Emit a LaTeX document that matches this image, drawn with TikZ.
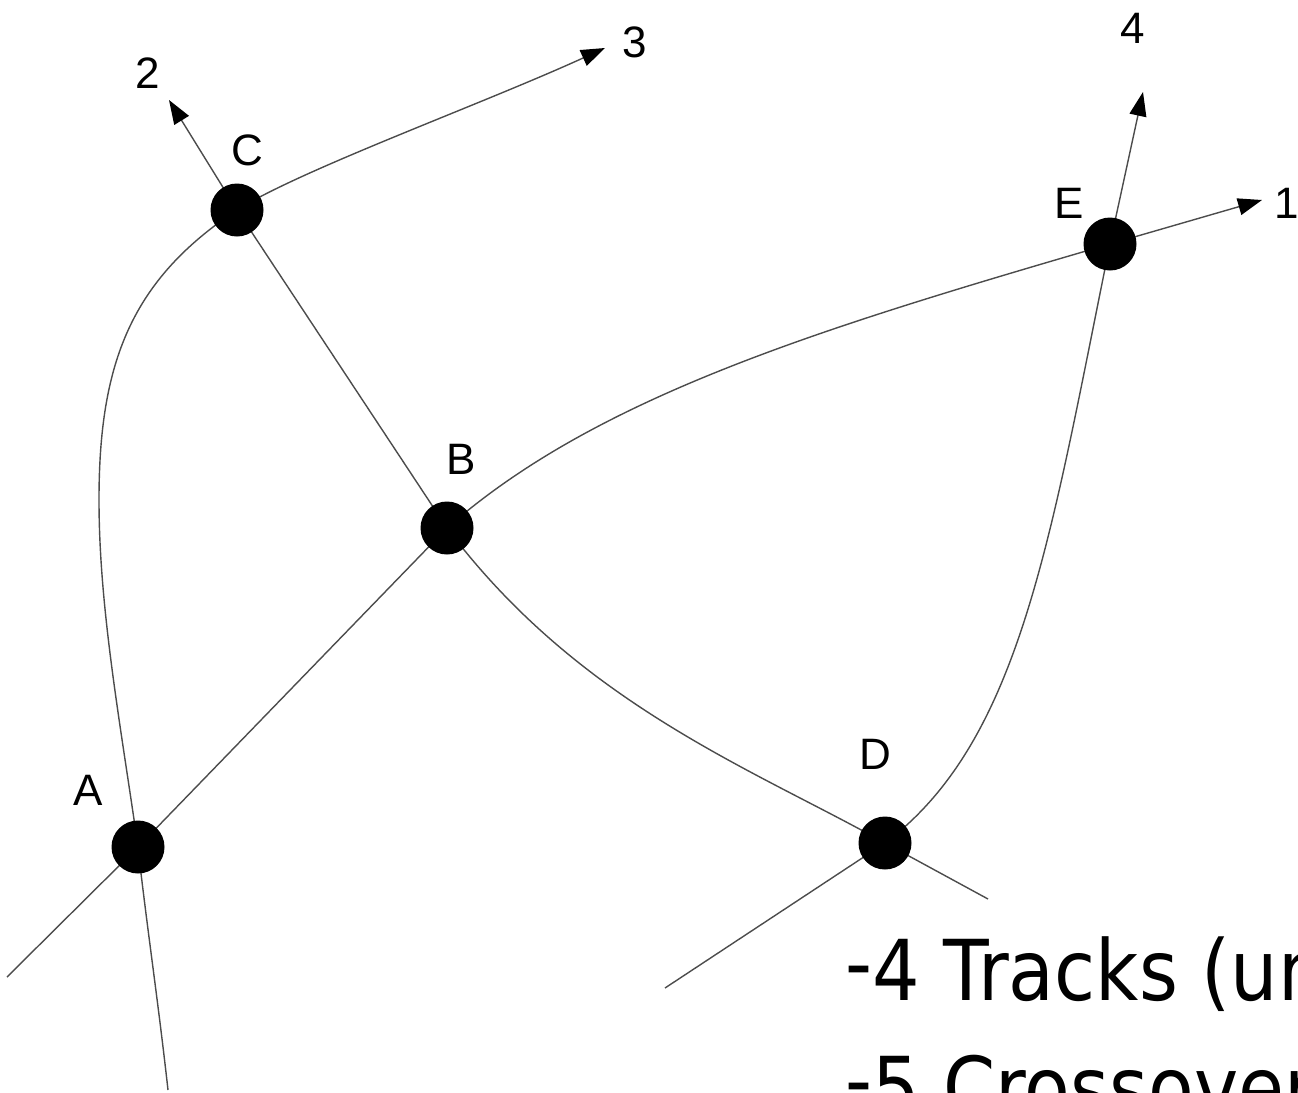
\documentclass[tikz,border=0pt]{standalone}
\usepackage{fontspec}
\setmainfont{Liberation Sans}
\newfontfamily\notefont[FakeStretch=0.89]{DejaVu Sans}
\usetikzlibrary{arrows.meta}
\pgfdeclarelayer{bg}
\pgfsetlayers{bg,main}
\begin{document}
\begin{tikzpicture}[x=1pt,y=-1pt,
  dot/.style={circle,fill=black,minimum size=53pt,inner sep=0pt},
  lbl/.style={font=\fontsize{44}{50}\selectfont,inner sep=0pt},
  trk/.style={draw=black!70,line width=1.4pt},
  arr/.style={-{Triangle[length=24pt,width=17pt,color=black]}},
  note/.style={font=\notefont\fontsize{84}{100}\selectfont,anchor=base west,inner sep=0pt}]
\useasboundingbox (0,0) rectangle (1298,1092);
\clip (0,0) rectangle (1298,1092);
% junctions
\node[dot] (A) at (138,847) {};
\node[dot] (B) at (447,528) {};
\node[dot] (C) at (237,210) {};
\node[dot] (D) at (885,843) {};
\node[dot] (E) at (1110,244) {};
% free ends
\coordinate (eA) at (7,977);
\coordinate (eA2) at (168,1090);
\coordinate (eD1) at (665,988);
\coordinate (eD2) at (988,899);
\coordinate (n1) at (99,500);
\coordinate (t1) at (1262,200);
\coordinate (t2) at (169,100);
\coordinate (t3) at (605,48);
\coordinate (t4) at (1143,92);
\begin{pgfonlayer}{bg}
\draw[trk] (eA) -- (A.center) -- (B.center) .. controls (597,396) and (822,328) .. (E.center);
\draw[trk,arr] (E.center) -- (t1);
\draw[trk,arr] (B.center) -- (C.center) -- (t2);
\draw[trk] (B.center) .. controls (579,704) and (753,769) .. (D.center) -- (eD2);
\draw[trk] (eA2) .. controls (158,1000) and (146,920) .. (A.center)
  .. controls (121,727) and (99,610) .. (n1)
  .. controls (99,363) and (131,280) .. (C.center);
\draw[trk,arr] (C.center) .. controls (300,170) and (480,105) .. (t3);
\draw[trk] (eD1) -- (D.center) .. controls (1021,741) and (1050,538) .. (E.center);
\draw[trk,arr] (E.center) -- (t4);
\end{pgfonlayer}
% labels
\node[lbl] (lA) at (88,790) {A};
\node[lbl] (lB) at (461,459) {B};
\node[lbl] (lC) at (247,150) {C};
\node[lbl] (lD) at (875,754) {D};
\node[lbl] (lE) at (1069,203) {E};
\node[lbl] (l1) at (1287,203) {1};
\node[lbl] (l2) at (148,73) {2};
\node[lbl] (l3) at (635,42) {3};
\node[lbl] (l4) at (1133,28) {4};
% notes
\node[note] (note1) at (845,1000) {\raisebox{8pt}{-}4 Tracks (un};
\node[note] (note2) at (845,1117) {\raisebox{8pt}{-}5 Crossovers};
\end{tikzpicture}
\end{document}
